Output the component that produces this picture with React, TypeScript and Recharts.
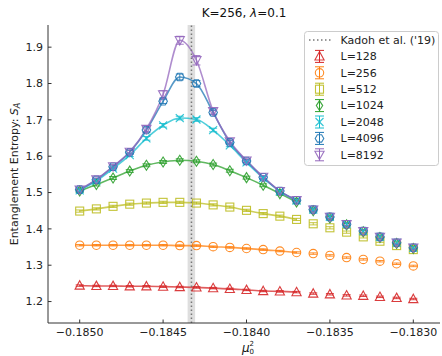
import React from "react";
import {
  ComposedChart,
  ErrorBar,
  Line,
  ReferenceArea,
  ReferenceLine,
  XAxis,
  YAxis,
} from "recharts";

// mu_0^2 grid
const muSquared = [
  -0.185, -0.1849, -0.1848, -0.1847, -0.1846, -0.1845, -0.1844, -0.1843, -0.1842, -0.1841, -0.184,
  -0.1839, -0.1838, -0.1837, -0.1836, -0.1835, -0.1834, -0.1833, -0.1832, -0.1831, -0.183,
];

// fit curves only cover this part of the grid
const fitMax = -0.1837;

const s128 = [1.244, 1.243, 1.243, 1.242, 1.242, 1.241, 1.24, 1.239, 1.237, 1.235, 1.232, 1.229, 1.228, 1.226, 1.222, 1.22, 1.217, 1.216, 1.213, 1.21, 1.207];
const s256 = [1.355, 1.355, 1.355, 1.355, 1.355, 1.355, 1.354, 1.354, 1.351, 1.349, 1.346, 1.343, 1.339, 1.335, 1.332, 1.327, 1.321, 1.316, 1.311, 1.304, 1.298];
const s512 = [1.449, 1.455, 1.462, 1.468, 1.471, 1.473, 1.473, 1.471, 1.466, 1.46, 1.451, 1.442, 1.435, 1.426, 1.414, 1.403, 1.391, 1.378, 1.366, 1.354, 1.343];
const s1024 = [1.504, 1.522, 1.54, 1.559, 1.575, 1.584, 1.589, 1.586, 1.577, 1.56, 1.541, 1.52, 1.497, 1.474, 1.45, 1.43, 1.411, 1.392, 1.376, 1.36, 1.346];
const s2048 = [1.506, 1.532, 1.566, 1.603, 1.649, 1.685, 1.705, 1.701, 1.672, 1.63, 1.583, 1.54, 1.503, 1.478, 1.453, 1.433, 1.413, 1.394, 1.378, 1.362, 1.348];
const s4096 = [1.508, 1.535, 1.571, 1.611, 1.672, 1.751, 1.818, 1.8, 1.72, 1.638, 1.587, 1.542, 1.504, 1.479, 1.453, 1.433, 1.413, 1.394, 1.378, 1.362, 1.348];
const s8192 = [1.508, 1.536, 1.572, 1.612, 1.675, 1.77, 1.919, 1.864, 1.724, 1.641, 1.588, 1.543, 1.504, 1.479, 1.453, 1.433, 1.413, 1.394, 1.378, 1.362, 1.348];

// error bars (rough)
const e128 = [0.002, 0.002, 0.002, 0.002, 0.002, 0.002, 0.002, 0.002, 0.002, 0.002, 0.002, 0.002, 0.002, 0.002, 0.002, 0.002, 0.002, 0.002, 0.002, 0.002, 0.002];
const e256 = [0.002, 0.002, 0.002, 0.002, 0.002, 0.002, 0.002, 0.002, 0.002, 0.002, 0.002, 0.002, 0.002, 0.002, 0.002, 0.002, 0.002, 0.002, 0.002, 0.002, 0.002];
const e512 = [0.003, 0.003, 0.003, 0.003, 0.003, 0.003, 0.003, 0.003, 0.003, 0.003, 0.003, 0.003, 0.003, 0.003, 0.003, 0.003, 0.003, 0.003, 0.003, 0.003, 0.003];
const e1024 = [0.004, 0.004, 0.004, 0.004, 0.004, 0.004, 0.004, 0.004, 0.004, 0.004, 0.004, 0.004, 0.004, 0.004, 0.004, 0.004, 0.004, 0.004, 0.004, 0.004, 0.004];
const e2048 = [0.004, 0.004, 0.004, 0.004, 0.005, 0.005, 0.005, 0.005, 0.005, 0.004, 0.004, 0.004, 0.004, 0.004, 0.004, 0.004, 0.004, 0.004, 0.004, 0.004, 0.004];
const e4096 = [0.004, 0.004, 0.004, 0.005, 0.006, 0.006, 0.008, 0.008, 0.006, 0.005, 0.004, 0.004, 0.004, 0.004, 0.004, 0.004, 0.004, 0.004, 0.004, 0.004, 0.004];
const e8192 = [0.004, 0.004, 0.005, 0.006, 0.008, 0.01, 0.011, 0.013, 0.008, 0.006, 0.005, 0.004, 0.004, 0.004, 0.004, 0.004, 0.004, 0.004, 0.004, 0.004, 0.004];

const xTicks = [-0.185, -0.1845, -0.184, -0.1835, -0.183];
const yTicks = [1.2, 1.3, 1.4, 1.5, 1.6, 1.7, 1.8, 1.9];

// Kadoh et al. ('19) critical point and its band
const kadoh = -0.18433;
const kadohLow = -0.184353;
const kadohHigh = -0.184308;

type Shape = "triUp" | "circle" | "square" | "diamond" | "cross" | "hex" | "triDown";

const series: { key: string; label: string; color: string; shape: Shape; values: number[]; errors: number[] }[] = [
  { key: "L128", label: "L=128", color: "#d62728", shape: "triUp", values: s128, errors: e128 },
  { key: "L256", label: "L=256", color: "#ff7f0e", shape: "circle", values: s256, errors: e256 },
  { key: "L512", label: "L=512", color: "#bcbd22", shape: "square", values: s512, errors: e512 },
  { key: "L1024", label: "L=1024", color: "#2ca02c", shape: "diamond", values: s1024, errors: e1024 },
  { key: "L2048", label: "L=2048", color: "#17becf", shape: "cross", values: s2048, errors: e2048 },
  { key: "L4096", label: "L=4096", color: "#1f77b4", shape: "hex", values: s4096, errors: e4096 },
  { key: "L8192", label: "L=8192", color: "#9467bd", shape: "triDown", values: s8192, errors: e8192 },
];

const rows = muSquared.map((x, i) => {
  const row: Record<string, number | null> = { x };
  series.forEach((s) => {
    row[s.key] = s.values[i];
    row[s.key + "Err"] = s.errors[i];
    row[s.key + "Fit"] = x <= fitMax + 1e-9 ? s.values[i] : null;
  });
  return row;
});

const FONT = "DejaVu Sans, sans-serif";

function Marker({ shape, cx, cy, color }: { shape: Shape; cx: number; cy: number; color: string }) {
  const p = { fill: "none", stroke: color, strokeWidth: 1.1, strokeOpacity: 0.9 };
  switch (shape) {
    case "triUp":
      return <polygon {...p} points={`${cx},${cy - 4.8} ${cx + 4.6},${cy + 3.6} ${cx - 4.6},${cy + 3.6}`} />;
    case "triDown":
      return <polygon {...p} points={`${cx},${cy + 4.8} ${cx + 4.6},${cy - 3.6} ${cx - 4.6},${cy - 3.6}`} />;
    case "circle":
      return <circle {...p} cx={cx} cy={cy} r={4.2} />;
    case "square":
      return <rect {...p} x={cx - 4} y={cy - 4} width={8} height={8} />;
    case "diamond":
      return <polygon {...p} points={`${cx},${cy - 5} ${cx + 3.2},${cy} ${cx},${cy + 5} ${cx - 3.2},${cy}`} />;
    case "cross":
      return (
        <g {...p}>
          <line x1={cx - 4} y1={cy - 4} x2={cx + 4} y2={cy + 4} />
          <line x1={cx - 4} y1={cy + 4} x2={cx + 4} y2={cy - 4} />
        </g>
      );
    default: {
      const pts = [0, 1, 2, 3, 4, 5]
        .map((k) => {
          const a = (Math.PI / 3) * k;
          return `${cx + 4.3 * Math.cos(a)},${cy + 4.3 * Math.sin(a)}`;
        })
        .join(" ");
      return <polygon {...p} points={pts} />;
    }
  }
}

const fmtX = (v: number) => v.toFixed(4).replace("-", "\u2212");

function XTick({ x, y, payload }: any) {
  return (
    <g>
      <line x1={x} x2={x} y1={y - 5} y2={y - 8.5} stroke="#333" />
      <text x={x} y={y} dy="0.71em" textAnchor="middle" fontSize={11} fontFamily={FONT} fill="#222">
        {fmtX(payload.value)}
      </text>
    </g>
  );
}

function YTick({ x, y, payload }: any) {
  return (
    <g>
      <line x1={x + 5} x2={x + 8.5} y1={y} y2={y} stroke="#333" />
      <text x={x} y={y} dy="0.355em" textAnchor="end" fontSize={11} fontFamily={FONT} fill="#222">
        {payload.value.toFixed(1)}
      </text>
    </g>
  );
}

const legendTop = 40;
const legendStep = 16.4;

export default function App() {
  return (
    <div style={{ position: "absolute", left: 0, top: 0, width: 442, height: 356, background: "#fff" }}>
      <ComposedChart width={442} height={356} data={rows} margin={{ top: 25, right: 2, bottom: 13, left: 0 }}>
        <ReferenceArea x1={kadohLow} x2={kadohHigh} fill="#c8c8c8" fillOpacity={0.6} stroke="none" />
        <XAxis
          dataKey="x"
          type="number"
          domain={[-0.18519, -0.18284]}
          ticks={xTicks}
          allowDataOverflow
          height={20}
          tickSize={0}
          tickMargin={5}
          tick={(props: any) => <XTick {...props} />}
          axisLine={{ stroke: "#333" }}
        />
        <XAxis xAxisId="top" orientation="top" type="number" domain={[0, 1]} height={0} tick={false} tickLine={false} axisLine={{ stroke: "#333" }} />
        <YAxis
          type="number"
          domain={[1.141, 1.961]}
          ticks={yTicks}
          allowDataOverflow
          width={48}
          tickSize={0}
          tickMargin={5}
          tick={(props: any) => <YTick {...props} />}
          axisLine={{ stroke: "#333" }}
        />
        <YAxis yAxisId="right" orientation="right" type="number" domain={[0, 1]} width={0} tick={false} tickLine={false} axisLine={{ stroke: "#333" }} />
        {series.map((s) => (
          <Line
            key={s.key + "Fit"}
            dataKey={s.key + "Fit"}
            type="monotone"
            stroke={s.color}
            strokeOpacity={0.75}
            strokeWidth={1.6}
            dot={false}
            activeDot={false}
            connectNulls={false}
            isAnimationActive={false}
          />
        ))}
        {series.map((s) => (
          <Line
            key={s.key}
            dataKey={s.key}
            stroke="none"
            activeDot={false}
            isAnimationActive={false}
            dot={(props: any) =>
              props.cx == null || props.cy == null ? (
                <g key={`${s.key}-${props.index}`} />
              ) : (
                <Marker key={`${s.key}-${props.index}`} shape={s.shape} cx={props.cx} cy={props.cy} color={s.color} />
              )
            }
          >
            <ErrorBar dataKey={s.key + "Err"} width={4} stroke={s.color} strokeOpacity={0.85} strokeWidth={1} direction="y" />
          </Line>
        ))}
        <ReferenceLine x={kadoh} stroke="#777" strokeWidth={1.5} strokeDasharray="1.5 2.5" />
      </ComposedChart>

      <svg width={442} height={356} style={{ position: "absolute", left: 0, top: 0, pointerEvents: "none" }} fontFamily={FONT}>
        <text x={244} y={17} textAnchor="middle" fontSize={12} fill="#111">
          K=256, <tspan fontStyle="italic">λ</tspan>=0.1
        </text>
        <text x={242} y={351.5} fontSize={12} fontStyle="italic" fill="#111">μ</text>
        <text x={249.5} y={345.5} fontSize={7} fill="#111">2</text>
        <text x={249.5} y={354} fontSize={7} fill="#111">0</text>
        <text transform="translate(18,174) rotate(-90)" textAnchor="middle" fontSize={11} fill="#222">
          Entanglement Entropy: <tspan fontStyle="italic">S</tspan>
          <tspan fontSize={8} fontStyle="italic" dy={2}>A</tspan>
        </text>

        <rect x={304.5} y={31.5} width={134} height={134} rx={3} fill="#fff" fillOpacity={0.85} stroke="#cccccc" />
        <line x1={309} x2={331} y1={legendTop} y2={legendTop} stroke="#777" strokeWidth={1.5} strokeDasharray="1.5 2.5" />
        <text x={340.5} y={legendTop} dy="0.35em" fontSize={11} fill="#222">
          Kadoh et al. ('19)
        </text>
        {series.map((s, i) => {
          const cy = legendTop + legendStep * (i + 1);
          return (
            <g key={s.key}>
              <line x1={319.5} x2={319.5} y1={cy - 6} y2={cy + 6} stroke={s.color} />
              <line x1={315} x2={324} y1={cy - 6} y2={cy - 6} stroke={s.color} />
              <line x1={315} x2={324} y1={cy + 6} y2={cy + 6} stroke={s.color} />
              <Marker shape={s.shape} cx={319.5} cy={cy} color={s.color} />
              <text x={340.5} y={cy} dy="0.35em" fontSize={11} fill="#222">
                {s.label}
              </text>
            </g>
          );
        })}
      </svg>
    </div>
  );
}
